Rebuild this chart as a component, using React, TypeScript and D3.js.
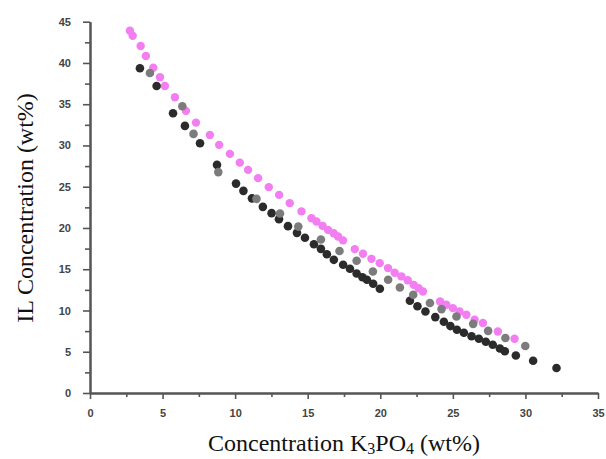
import {useEffect, useRef} from "react";
import * as d3 from "d3";

// data (x = K3PO4 wt%, y = IL wt%)
const magentaX = [2.75, 2.94, 3.49, 3.85, 4.36, 4.82, 5.16, 5.85, 6.61, 7.30, 8.26, 8.90, 9.64, 10.32, 10.89, 11.58, 12.32, 13.03, 13.76, 14.57, 15.26, 15.60, 16.02, 16.40, 16.79, 17.09, 17.43, 18.24, 18.81, 19.39, 19.96, 20.53, 20.99, 21.45, 21.89, 22.30, 22.64, 22.94, 24.12, 24.55, 25.00, 25.46, 25.93, 26.50, 27.07, 28.10, 29.25];
const magentaY = [43.91, 43.30, 42.06, 40.85, 39.43, 38.27, 37.21, 35.84, 34.19, 32.77, 31.28, 30.07, 28.98, 27.92, 27.04, 26.04, 24.95, 24.01, 23.01, 22.01, 21.19, 20.78, 20.26, 19.77, 19.37, 18.96, 18.50, 17.44, 16.87, 16.26, 15.74, 15.14, 14.57, 14.14, 13.66, 13.11, 12.69, 12.30, 11.09, 10.69, 10.29, 9.88, 9.48, 8.88, 8.48, 7.46, 6.58];

const blackX = [3.44, 4.59, 5.72, 6.54, 7.58, 8.75, 10.06, 10.57, 11.16, 11.91, 12.51, 13.02, 13.64, 14.26, 14.81, 15.43, 15.91, 16.32, 16.80, 17.44, 17.91, 18.37, 18.77, 19.08, 19.51, 19.97, 22.04, 22.56, 23.11, 23.79, 24.38, 24.83, 25.28, 25.76, 26.29, 26.79, 27.27, 27.75, 28.24, 28.58, 29.34, 30.53, 32.14];
const blackY = [39.36, 37.21, 33.91, 32.37, 30.27, 27.65, 25.38, 24.50, 23.59, 22.56, 21.80, 21.07, 20.22, 19.41, 18.81, 18.02, 17.47, 16.81, 16.14, 15.54, 15.05, 14.48, 14.02, 13.72, 13.24, 12.63, 11.18, 10.51, 9.88, 9.20, 8.63, 8.11, 7.67, 7.30, 6.88, 6.58, 6.22, 5.85, 5.39, 5.06, 4.55, 3.91, 3.03];

const grayX = [4.13, 6.36, 7.13, 8.84, 11.47, 13.09, 14.35, 15.91, 17.19, 18.37, 19.49, 20.54, 21.35, 22.27, 23.42, 24.22, 25.25, 26.40, 27.43, 28.62, 29.99];
const grayY = [38.79, 34.75, 31.40, 26.77, 23.53, 21.75, 20.17, 18.61, 17.21, 16.02, 14.73, 13.72, 12.79, 11.90, 10.90, 10.17, 9.28, 8.38, 7.53, 6.66, 5.69];

const xTicks = [0, 5, 10, 15, 20, 25, 30, 35];
const yTicks = [0, 5, 10, 15, 20, 25, 30, 35, 40, 45];

function App() {
    const myNode = useRef<SVGSVGElement>(null);

    useEffect(() => {
        const width = 606;
        const height = 459;
        const svg = d3.select(myNode.current);
        svg.selectAll('*').remove();
        svg.attr('width', width).attr('height', height);

        const xScale = d3.scaleLinear().domain([0, 35]).range([90, 598]);
        const yScale = d3.scaleLinear().domain([0, 45]).range([393, 21.7]);
        const axisColor = "#555";

        // minor ticks first
        svg.append('g')
            .attr('transform', `translate(0,${yScale(0)})`)
            .call(d3.axisBottom(xScale).tickValues(d3.range(2.5, 35, 5)).tickSize(4).tickFormat(() => "").tickSizeOuter(0));
        svg.append('g')
            .attr('transform', `translate(${xScale(0)},0)`)
            .call(d3.axisLeft(yScale).tickValues(d3.range(2.5, 45, 5)).tickSize(5).tickFormat(() => "").tickSizeOuter(0));

        const xAxis = svg.append('g')
            .attr('transform', `translate(0,${yScale(0)})`)
            .call(d3.axisBottom(xScale).tickValues(xTicks).tickSize(6).tickPadding(10).tickSizeOuter(0));
        const yAxis = svg.append('g')
            .attr('transform', `translate(${xScale(0)},0)`)
            .call(d3.axisLeft(yScale).tickValues(yTicks).tickSize(7).tickPadding(12).tickSizeOuter(0));

        svg.selectAll('.domain').attr('stroke', axisColor).attr('stroke-width', 2);
        svg.selectAll('.tick line').attr('stroke', axisColor).attr('stroke-width', 1.6);
        [xAxis, yAxis].forEach(a => a.selectAll('text')
            .attr('fill', '#444')
            .style('font-family', '"Liberation Sans", Arial, sans-serif')
            .style('font-weight', 'bold')
            .style('font-size', '11px'));

        const drawSeries = (xs: number[], ys: number[], color: string, r: number) => {
            svg.append('g')
                .selectAll('circle')
                .data(xs.map((x, i) => [x, ys[i]]))
                .enter()
                .append('circle')
                .attr('cx', d => xScale(d[0]))
                .attr('cy', d => yScale(d[1]))
                .attr('r', r)
                .attr('fill', color);
        };
        drawSeries(magentaX, magentaY, '#f27ef2', 4.2);
        drawSeries(blackX, blackY, '#2b2b2b', 4.3);
        drawSeries(grayX, grayY, '#7c7c7c', 4.3);

        // axis titles
        const xt = svg.append('text')
            .attr('x', (xScale(0) + xScale(35)) / 2)
            .attr('y', 451)
            .attr('text-anchor', 'middle')
            .style('font-family', '"Liberation Serif", "Times New Roman", serif')
            .style('font-size', '24px')
            .attr('fill', '#111');
        xt.append('tspan').text('Concentration K');
        xt.append('tspan').attr('dy', 3).style('font-size', '16px').text('3');
        xt.append('tspan').attr('dy', -3).text('PO');
        xt.append('tspan').attr('dy', 3).style('font-size', '16px').text('4');
        xt.append('tspan').attr('dy', -3).text(' (wt%)');

        svg.append('text')
            .attr('transform', `translate(33,208) rotate(-90)`)
            .attr('text-anchor', 'middle')
            .style('font-family', '"Liberation Serif", "Times New Roman", serif')
            .style('font-size', '24px')
            .attr('fill', '#111')
            .text('IL Concentration (wt%)');
    }, []);

    return (
        <svg ref={myNode} style={{position: 'absolute', left: 0, top: 0, display: 'block'}}></svg>
    );
}

export default App;
